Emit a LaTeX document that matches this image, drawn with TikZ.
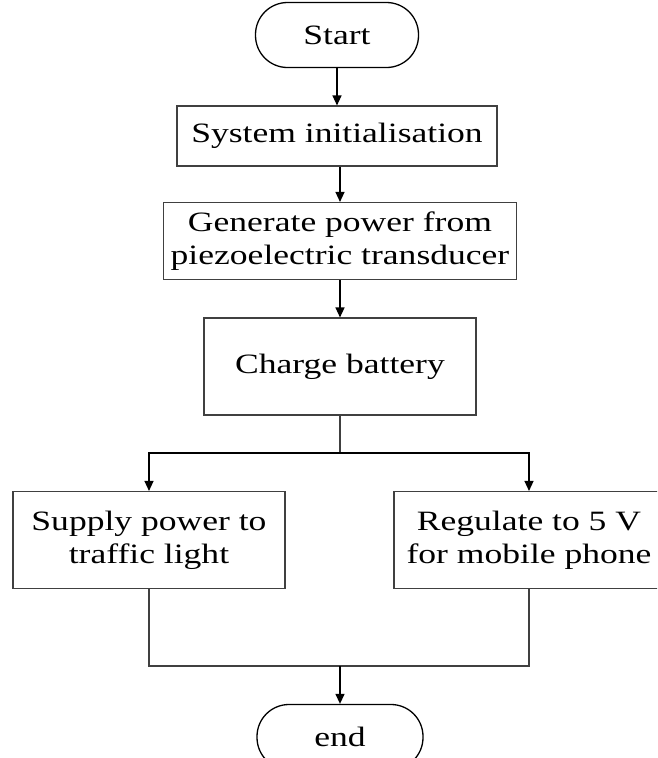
\documentclass[tikz,border=0pt]{standalone}
\usepackage{fontspec}
\setmainfont{Liberation Serif}[FakeStretch=1.27]
\usetikzlibrary{arrows.meta}
\begin{document}
\begin{tikzpicture}[x=1pt,y=-1pt,
  every node/.style={font=\fontsize{28}{33}\selectfont, align=center},
  box/.style={draw=black!75, line width=1.1pt, rectangle, inner sep=0pt},
  term/.style={draw=black, line width=1.3pt, rectangle, inner sep=0pt, rounded corners=32pt},
  line/.style={draw=black!75, line width=1.1pt},
  arrow/.style={draw=black, line width=1.3pt, -{Triangle[length=10pt,width=9pt]}}]
\useasboundingbox (0,0) rectangle (657,758);
\clip (0,0) rectangle (657,758);
\node[term, minimum width=163pt, minimum height=65pt] (start) at (337,35) {Start};
\node[box, minimum width=320pt, minimum height=60pt] (init) at (337,136) {System initialisation};
\node[box, minimum width=353pt, minimum height=77pt] (gen) at (340,241) {Generate power from\\piezoelectric transducer};
\node[box, minimum width=272pt, minimum height=97pt] (charge) at (340,366.5) {Charge battery};
\node[box, minimum width=272pt, minimum height=97pt] (supply) at (149,540) {Supply power to\\traffic light};
\node[box, minimum width=270pt, minimum height=97pt] (reg) at (529,540) {Regulate to 5 V\\for mobile phone};
\node[term, minimum width=166pt, minimum height=65pt] (end) at (340,737) {end};
\coordinate (split) at (340,453);
\coordinate (join) at (340,666);
\draw[arrow] (start) -- (start |- init.north);
\draw[arrow] (init.south -| gen) -- (gen.north);
\draw[arrow] (gen) -- (charge);
\draw[line] (charge.south) -- (split);
\draw[arrow] (split) -| (supply.north);
\draw[arrow] (split) -| (reg.north);
\draw[line] (supply.south) |- (join) -| (reg.south);
\draw[arrow] (join) -- (end);
\end{tikzpicture}
\end{document}
